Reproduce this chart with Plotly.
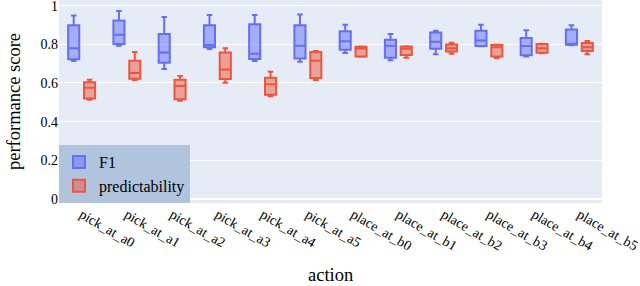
import plotly.graph_objects as go

actions = ["pick_at_a0", "pick_at_a1", "pick_at_a2", "pick_at_a3", "pick_at_a4", "pick_at_a5",
           "place_at_b0", "place_at_b1", "place_at_b2", "place_at_b3", "place_at_b4", "place_at_b5"]

f1_lower  = [0.713, 0.792, 0.672, 0.775, 0.713, 0.710, 0.755, 0.718, 0.749, 0.790, 0.737, 0.795]
f1_q1     = [0.722, 0.801, 0.704, 0.784, 0.724, 0.727, 0.772, 0.730, 0.777, 0.791, 0.743, 0.797]
f1_median = [0.779, 0.849, 0.758, 0.796, 0.751, 0.792, 0.815, 0.792, 0.813, 0.820, 0.791, 0.801]
f1_q3     = [0.898, 0.923, 0.853, 0.899, 0.903, 0.898, 0.867, 0.823, 0.861, 0.870, 0.832, 0.877]
f1_upper  = [0.949, 0.972, 0.941, 0.952, 0.952, 0.954, 0.901, 0.853, 0.870, 0.901, 0.873, 0.898]

pr_lower  = [0.513, 0.615, 0.508, 0.601, 0.531, 0.615, 0.735, 0.730, 0.751, 0.729, 0.753, 0.749]
pr_q1     = [0.520, 0.622, 0.515, 0.620, 0.539, 0.625, 0.737, 0.744, 0.763, 0.737, 0.756, 0.765]
pr_median = [0.575, 0.651, 0.584, 0.670, 0.593, 0.715, 0.778, 0.777, 0.780, 0.785, 0.779, 0.784]
pr_q3     = [0.603, 0.715, 0.617, 0.758, 0.627, 0.760, 0.787, 0.789, 0.799, 0.796, 0.801, 0.806]
pr_upper  = [0.617, 0.760, 0.636, 0.779, 0.658, 0.765, 0.788, 0.790, 0.808, 0.797, 0.803, 0.817]

SERIF = "Liberation Serif, serif"

fig = go.Figure()
fig.add_trace(go.Box(x=actions, q1=f1_q1, median=f1_median, q3=f1_q3,
                     lowerfence=f1_lower, upperfence=f1_upper, name="F1",
                     marker_color="#636efa", line_width=2))
fig.add_trace(go.Box(x=actions, q1=pr_q1, median=pr_median, q3=pr_q3,
                     lowerfence=pr_lower, upperfence=pr_upper, name="predictability",
                     marker_color="#EF553B", line_width=2))

fig.update_layout(
    template="plotly",
    width=640, height=286,
    boxmode="group",
    margin=dict(l=59, r=38, t=0, b=83, autoexpand=False),
    font=dict(family=SERIF, size=14, color="black"),
    plot_bgcolor="#E5ECF6",
    paper_bgcolor="white",
    legend=dict(x=0, y=0, xanchor="left", yanchor="bottom", bgcolor="lightsteelblue",
                font=dict(family=SERIF, size=16, color="black")),
    xaxis=dict(tickangle=30, tickfont=dict(family=SERIF, size=14, color="black"),
               automargin=False),
    yaxis=dict(title=dict(text="performance score",
                          font=dict(family=SERIF, size=18.5, color="black")),
               range=[-0.021, 1.029], dtick=0.2, ticklabeloverflow="allow",
               tickfont=dict(family=SERIF, size=14, color="black"), automargin=False),
    annotations=[dict(text="action", xref="paper", yref="paper", x=0.5, y=-0.355,
                      xanchor="center", yanchor="middle", showarrow=False,
                      font=dict(family=SERIF, size=18.5, color="black"))],
)

fig.write_html("out.html", config={"displayModeBar": False},
               post_script="document.body.style.margin='0';")
